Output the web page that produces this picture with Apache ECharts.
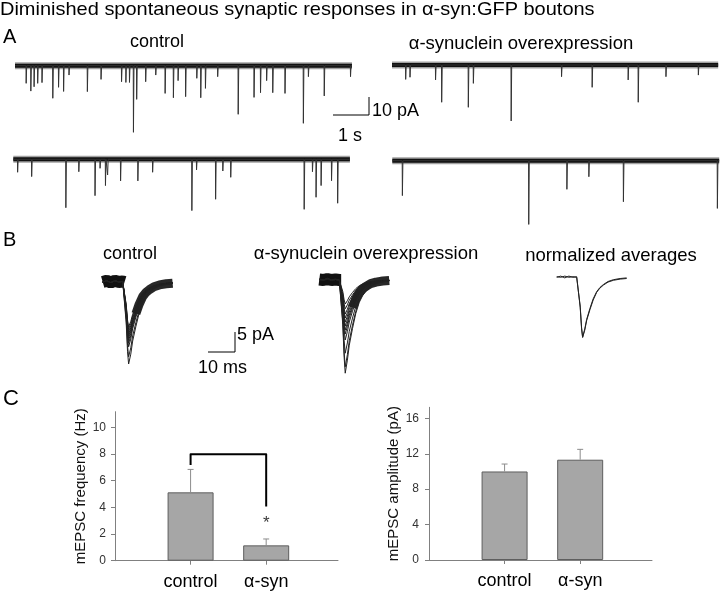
<!DOCTYPE html>
<html><head><meta charset="utf-8">
<script src="https://cdn.jsdelivr.net/npm/echarts@6/dist/echarts.min.js"></script>
<style>html,body{margin:0;padding:0;background:#fff}#c{width:720px;height:592px}</style>
</head><body><div id="c"></div>
<script>
// ---------- Panel A: spontaneous events (time in s, amplitude in pA) ----------
const ctrlTopTimes = [0.31,0.44,0.53,0.63,0.75,1.05,1.21,1.35,1.50,2.01,2.39,2.96,3.08,3.18,3.29,3.38,3.63,3.91,4.17,4.40,4.53,4.74,5.05,5.16,5.29,5.63,6.20,6.64,6.82,6.99,7.16,7.50,8.01,8.15,8.59,9.32];
const ctrlTopAmps  = [9.8,14.1,11.7,9.8,9.4,18.1,12.0,14.3,5.2,14.4,7.6,8.9,9.3,9.3,37.0,18.7,8.9,5.2,15.4,17.8,8.3,17.2,7.0,17.8,12.6,6.1,27.0,17.6,15.0,8.3,15.0,15.4,32.0,6.1,16.8,6.1];
const synTopTimes  = [0.38,0.50,1.21,1.38,2.12,2.26,3.31,4.71,5.56,6.56,6.84,7.61,8.51];
const synTopAmps   = [8.0,6.8,8.3,20.7,23.5,10.2,31.1,6.5,12.4,8.3,20.7,6.5,5.6];
const ctrlBotTimes = [0.12,0.51,1.46,1.82,2.27,2.41,2.56,2.62,2.98,3.46,3.87,4.96,5.09,5.62,5.82,6.04,8.08,8.31,8.41,8.55,8.84,9.01];
const ctrlBotAmps  = [7.2,9.6,26.9,6.9,20.2,5.0,14.6,8.7,12.0,12.0,7.2,28.5,5.9,22.2,6.5,10.0,27.8,6.9,21.1,14.6,11.9,24.4];
const synBotTimes  = [0.28,3.79,4.85,5.46,6.42,9.03];
const synBotAmps   = [19.4,35.4,15.9,8.9,22.8,26.5];
const traceDurations = [9.36, 9.06, 9.35, 9.08]; // s
const scaleBarA = {sec: 1, pA: 10};

// ---------- Panel B: averaged waveform (time in ms, normalized) ----------
const normTime = [0,1.5,3,4.5,6,7.4,8.1,8.7,9.2,9.6,10.4,11.1,12.3,13.5,14.8,16.0,17.3,19.0,21.0,23.5,25.9];
const normCtrl = [0,0.02,-0.01,0.02,0,0.01,0,-0.5,-0.85,-1.0,-0.88,-0.72,-0.54,-0.38,-0.25,-0.18,-0.13,-0.08,-0.05,-0.03,-0.02];
const normSyn  = [0.01,0,0.02,0,0.01,0,0,-0.48,-0.83,-1.0,-0.86,-0.70,-0.52,-0.36,-0.24,-0.17,-0.12,-0.07,-0.04,-0.02,-0.01];
const ctrlSweepPeaks = [11.2,11.8,12.4,13.0,13.5,14.0,14.6,15.3,16.2,18.7,20.5]; // pA
const synSweepPeaks  = [6.0,7.2,8.5,9.5,10.5,11.5,12.5,13.5,15.0,18.3,21.7,23.3]; // pA
const scaleBarB = {ms: 10, pA: 5};

// ---------- Panel C: bar charts ----------
const barCategories = ['control', 'α-syn'];
const freqMean = [5.13, 1.15];
const freqErr  = [6.85, 1.63];
const ampMean  = [10.0, 11.33];
const ampErr   = [10.84, 12.5];
const freqTicks = [0,2,4,6,8,10];
const ampTicks  = [0,4,8,12,16];
const sigBracket = [[1,7.18],[1,7.98],[2,7.98],[2,4.07]];
const sigStar = [2, 2.8];

const FONT = 'Liberation Sans, Arial, sans-serif';
const grids = [], xAxes = [], yAxes = [], series = [];
function addGrid(g, x, y) {
  const i = grids.length;
  grids.push(g);
  xAxes.push(Object.assign({gridIndex: i, show: false}, x));
  yAxes.push(Object.assign({gridIndex: i, show: false}, y));
  return i;
}
function line(gi, data, style, extra) {
  series.push(Object.assign({type: 'line', xAxisIndex: gi, yAxisIndex: gi, symbol: 'none', clip: false, silent: true,
    data: data, lineStyle: style}, extra || {}));
}

// Panel A traces
const PX_S = 36, PX_PA = 1.8;
const traces = [
  {times: ctrlTopTimes, amps: ctrlTopAmps, left: 15, base: 65.7},
  {times: synTopTimes, amps: synTopAmps, left: 392, base: 65},
  {times: ctrlBotTimes, amps: ctrlBotAmps, left: 13.3, base: 159.3},
  {times: synBotTimes, amps: synBotAmps, left: 392.3, base: 160.7}
];
traces.forEach((tr, k) => {
  const dur = traceDurations[k];
  const gi = addGrid({left: tr.left, top: tr.base - 5 * PX_PA, width: dur * PX_S, height: 45 * PX_PA},
    {type: 'value', min: 0, max: dur}, {type: 'value', min: -40, max: 5});
  line(gi, [[0, 0], [dur, 0]], {color: '#555', width: 7, opacity: 0.55, cap: 'butt'});
  line(gi, [[0, 0], [dur, 0]], {color: '#111', width: 4, cap: 'butt'});
  const d = [[0, 0]];
  tr.times.forEach((t, i) => { d.push([t - 0.005, 0], [t, -tr.amps[i]], [t + 0.015, 0]); });
  d.push([dur, 0]);
  line(gi, d, {color: '#333', width: 1});
});
// scale bar A
{
  const gi = addGrid({left: 333, top: 97, width: scaleBarA.sec * PX_S, height: scaleBarA.pA * PX_PA},
    {type: 'value', min: 0, max: scaleBarA.sec}, {type: 'value', min: 0, max: scaleBarA.pA});
  line(gi, [[0, 0], [scaleBarA.sec, 0], [scaleBarA.sec, scaleBarA.pA]], {color: '#000', width: 1});
}

// Panel B
const PX_MS = 2.7, PX_PAB = 4;
function sweepGroup(left, base, tpl, peaks, yMin) {
  const dur = normTime[normTime.length - 1];
  const gi = addGrid({left: left, top: base - 3 * PX_PAB, width: dur * PX_MS, height: (3 - yMin) * PX_PAB},
    {type: 'value', min: 0, max: dur}, {type: 'value', min: yMin, max: 3});
  const mean = peaks.reduce((a, b) => a + b, 0) / peaks.length;
  line(gi, normTime.map((t, i) => [t, tpl[i] * mean]).filter(p => p[0] <= 8.1),
    {color: '#111', width: 12, cap: 'butt'});
  line(gi, normTime.map((t, i) => [t, tpl[i] * mean]).filter(p => p[0] >= 12.3),
    {color: '#111', width: 9, cap: 'butt', opacity: 0.9});
  peaks.forEach(a => line(gi, normTime.map((t, i) => [t, tpl[i] * a]), {color: '#222', width: 1}));
}
sweepGroup(102.7, 282, normCtrl, ctrlSweepPeaks, -22);
sweepGroup(319.3, 280, normSyn, synSweepPeaks, -24);
{
  const dur = normTime[normTime.length - 1];
  const gi = addGrid({left: 556.7, top: 277.3 - 0.15 * 60, width: dur * PX_MS, height: 1.25 * 60},
    {type: 'value', min: 0, max: dur}, {type: 'value', min: -1.1, max: 0.15});
  [normCtrl, normSyn].forEach(v => line(gi, normTime.map((t, i) => [t, v[i]]), {color: '#222', width: 1}));
}
{
  const gi = addGrid({left: 208, top: 332, width: scaleBarB.ms * PX_MS, height: scaleBarB.pA * PX_PAB},
    {type: 'value', min: 0, max: scaleBarB.ms}, {type: 'value', min: 0, max: scaleBarB.pA});
  line(gi, [[0, 0], [scaleBarB.ms, 0], [scaleBarB.ms, scaleBarB.pA]], {color: '#000', width: 1});
}

// Panel C
function barChart(left, top, height, yMax, ticks, name, nameGap, means, errs, labelMargin) {
  const gi = addGrid({left: left, top: top, width: 223, height: height},
    {type: 'value', min: 0, max: 2.95, show: true,
      axisLine: {show: true, onZero: false, lineStyle: {color: '#808080', width: 1}},
      axisTick: {show: true, customValues: [1, 2], length: 4, lineStyle: {color: '#808080'}},
      axisLabel: {show: true, customValues: [1, 2], formatter: v => barCategories[Math.round(v) - 1],
        fontSize: 18, color: '#000', fontFamily: FONT, margin: 12},
      splitLine: {show: false}},
    {type: 'value', min: 0, max: yMax, show: true,
      axisLine: {show: true, lineStyle: {color: '#808080', width: 1}},
      axisTick: {show: true, customValues: ticks, length: 4, lineStyle: {color: '#808080'}},
      axisLabel: {show: true, customValues: ticks, fontSize: 12, color: '#333', fontFamily: FONT, margin: labelMargin},
      splitLine: {show: false},
      name: name, nameLocation: 'middle', nameGap: nameGap,
      nameTextStyle: {fontSize: 15, color: '#111', fontFamily: FONT}});
  series.push({type: 'bar', xAxisIndex: gi, yAxisIndex: gi, barWidth: 46, silent: true,
    data: means.map((m, i) => [i + 1, m]),
    itemStyle: {color: '#a6a6a6', borderColor: '#5e5e5e', borderWidth: 1}});
  series.push({type: 'custom', xAxisIndex: gi, yAxisIndex: gi, silent: true, z: 3,
    data: means.map((m, i) => [i + 1, m, errs[i]]),
    renderItem: (params, api) => {
      const p1 = api.coord([api.value(0), api.value(1)]);
      const p2 = api.coord([api.value(0), api.value(2)]);
      return {type: 'group', children: [
        {type: 'line', shape: {x1: p1[0], y1: p1[1], x2: p2[0], y2: p2[1]}, style: {stroke: '#8c8c8c', lineWidth: 1}},
        {type: 'line', shape: {x1: p2[0] - 3, y1: p2[1], x2: p2[0] + 3, y2: p2[1]}, style: {stroke: '#8c8c8c', lineWidth: 1}}
      ]};
    }});
  return gi;
}
const gF = barChart(115, 411.7, 149, 11.18, freqTicks, 'mEPSC frequency (Hz)', 24, freqMean, freqErr, 9);
line(gF, sigBracket, {color: '#000', width: 2, join: 'round'}, {z: 4, clip: true});
series.push({type: 'scatter', xAxisIndex: gF, yAxisIndex: gF, symbolSize: 0, silent: true,
  data: [sigStar], label: {show: true, position: 'inside', formatter: '*', fontSize: 17, color: '#000', fontFamily: FONT}});
barChart(429, 407.3, 152.7, 17.25, ampTicks, 'mEPSC amplitude (pA)', 20, ampMean, ampErr, 10);

function txt(text, x, y, size, align) {
  return {type: 'text', x: x, y: y, silent: true,
    style: {text: text, fontSize: size, fontFamily: FONT, fill: '#000', align: align || 'center', verticalAlign: 'middle'}};
}
const graphics = [
  Object.assign(txt('Diminished spontaneous synaptic responses in α-syn:GFP boutons', 0, 9.8, 18.5, 'left'), {scaleX: 1.08}),
  txt('A', 3, 37, 20, 'left'),
  txt('B', 3, 240, 20, 'left'),
  txt('C', 3, 398.5, 22, 'left'),
  txt('control', 157, 41.7, 18),
  txt('α-synuclein overexpression', 521, 44.4, 18.5),
  txt('10 pA', 372, 110.8, 18, 'left'),
  txt('1 s', 350, 136.5, 18),
  txt('control', 130, 253.8, 18),
  txt('α-synuclein overexpression', 366, 253.8, 18.5),
  txt('normalized averages', 611, 255.5, 18.5),
  txt('5 pA', 237, 335.5, 18, 'left'),
  txt('10 ms', 222.5, 367.8, 18)
];

const chart = echarts.init(document.getElementById('c'), null, {renderer: 'canvas'});
chart.setOption({
  animation: false,
  backgroundColor: '#fff',
  grid: grids, xAxis: xAxes, yAxis: yAxes, series: series,
  graphic: graphics
});
</script>
</body></html>
